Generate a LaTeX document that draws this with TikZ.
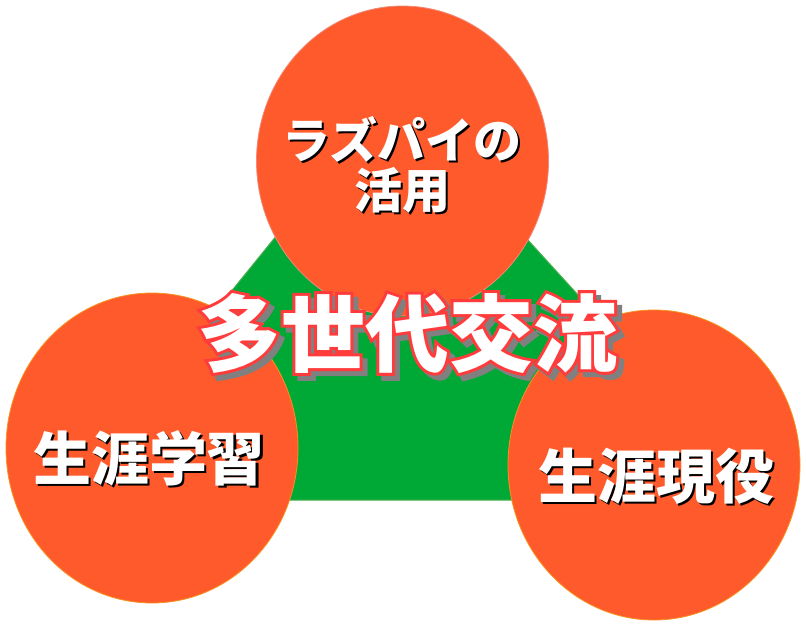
\documentclass[tikz,border=0pt]{standalone}
\usepackage{fontspec}
\usetikzlibrary{shapes.geometric}
\newfontfamily\cjk{Noto Sans CJK JP}
\newfontfamily\cjkfb{Noto Sans CJK JP}[BoldFeatures={FakeBold=7}]
\definecolor{bubfill}{HTML}{FF5A2C}
\definecolor{bubrim}{HTML}{F7931E}
\definecolor{toprim}{HTML}{F08A7A}
\definecolor{grn}{HTML}{00A835}
\definecolor{grnline}{HTML}{4CAF50}
\definecolor{outred}{HTML}{FF3B3B}
\definecolor{shgray}{HTML}{808080}
\tikzset{
  bub/.style={ellipse, fill=bubfill, draw=bubrim, line width=0.8pt, minimum width=292pt, minimum height=310pt, inner sep=0pt},
  lbl/.style={inner sep=0pt, align=center, text=white, font=\cjk\bfseries\fontsize{#1}{#1}\selectfont},
  lblsh/.style={lbl=#1, text=black, xshift=2pt, yshift=-2pt},
  ttl/.style={inner sep=0pt, font=\cjk\bfseries\fontsize{84}{84}\selectfont},
  ttlout/.style={inner sep=0pt, font=\cjkfb\bfseries\fontsize{84}{84}\selectfont},
}
\begin{document}
\begin{tikzpicture}[x=1pt,y=-1pt]
\useasboundingbox (0,0) rectangle (806,624);
\fill[white] (0,0) rectangle (806,624);
\coordinate (apex) at (393,92);
\coordinate (br) at (765,500);
\coordinate (bl) at (62,500);
\filldraw[fill=grn, draw=grnline, line width=1pt] (apex) -- (br) -- (bl) -- cycle;
\node[bub, draw=toprim] (top) at (402.5,161) {};
\node[bub] (left) at (152,448) {};
\node[bub] (right) at (654,465) {};
% top label
\node[lblsh=48] (toplbls) at (402,165) {ラズパイの\\[2pt]活用};
\node[lbl=48] (toplbl) at (402,165) {ラズパイの\\[2pt]活用};
% left label
\node[lblsh=58] (leftlbls) at (149,458) {生涯学習};
\node[lbl=58] (leftlbl) at (149,458) {生涯学習};
% right label
\node[lblsh=59] (rightlbls) at (656,476) {生涯現役};
\node[lbl=59] (rightlbl) at (656,476) {生涯現役};
% title
\coordinate (tc) at (407,333);
\node[ttlout, text=shgray, xshift=5pt, yshift=-5pt] (titlesh) at (tc) {多世代交流};
\node[ttlout, text=outred] (titleout) at (tc) {多世代交流};
\node[ttl, text=white] (title) at (tc) {多世代交流};
\end{tikzpicture}
\end{document}
